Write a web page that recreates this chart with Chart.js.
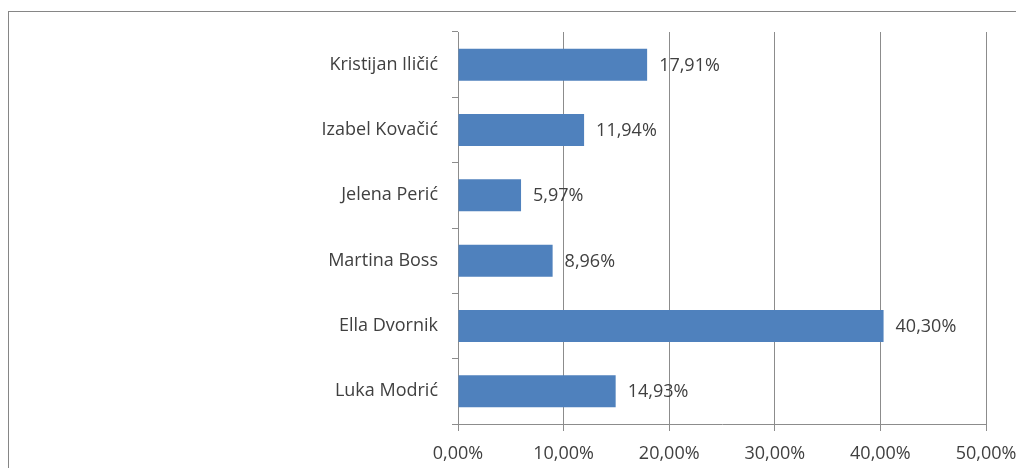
<!DOCTYPE html>
<html>
<head>
<meta charset="utf-8">
<script src="https://cdn.jsdelivr.net/npm/chart.js@4"></script>
<style>
  html, body { margin: 0; padding: 0; background: #fff; }
  #wrap { width: 1016px; height: 468px; position: relative; }
</style>
</head>
<body>
<div id="wrap"><canvas id="chart"></canvas></div>
<script>
const names = ['Kristijan Iličić', 'Izabel Kovačić', 'Jelena Perić', 'Martina Boss', 'Ella Dvornik', 'Luka Modrić'];
const shares = [17.91, 11.94, 5.97, 8.96, 40.30, 14.93];
const xTicks = [0, 10, 20, 30, 40, 50];

const textColor = '#404040';
const gridColor = '#8c8c8c';
const font = { family: '"Open Sans", sans-serif', size: 18 };

function pct(v) {
  return v.toFixed(2).replace('.', ',') + '%';
}

// outer frame like the spreadsheet chart border
const framePlugin = {
  id: 'frame',
  beforeDraw(chart) {
    const ctx = chart.ctx;
    ctx.save();
    ctx.fillStyle = '#fff';
    ctx.fillRect(0, 0, chart.width, chart.height);
    ctx.strokeStyle = '#868686';
    ctx.lineWidth = 1;
    ctx.strokeRect(8.5, 11.5, chart.width + 10, chart.height + 10);
    ctx.restore();
  }
};

// value labels right of each bar
const valueLabels = {
  id: 'valueLabels',
  afterDatasetsDraw(chart) {
    const ctx = chart.ctx;
    const meta = chart.getDatasetMeta(0);
    ctx.save();
    ctx.font = font.size + 'px ' + font.family;
    ctx.fillStyle = textColor;
    ctx.textAlign = 'left';
    ctx.textBaseline = 'middle';
    meta.data.forEach((bar, i) => {
      ctx.fillText(pct(shares[i]), bar.x + 12, bar.y + 1);
    });
    ctx.restore();
  }
};

new Chart(document.getElementById('chart'), {
  type: 'bar',
  data: {
    labels: names,
    datasets: [{
      data: shares,
      backgroundColor: '#4f81bd',
      borderWidth: 0,
      categoryPercentage: 1,
      barPercentage: 0.49
    }]
  },
  options: {
    indexAxis: 'y',
    responsive: true,
    maintainAspectRatio: false,
    animation: false,
    layout: { padding: { left: 8, top: 32, right: 30, bottom: 0 } },
    plugins: {
      legend: { display: false },
      tooltip: { enabled: false }
    },
    scales: {
      x: {
        min: 0,
        max: 50,
        afterBuildTicks(scale) {
          scale.ticks = xTicks.map(v => ({ value: v }));
        },
        afterFit(scale) {
          scale.height = 44;
          scale.paddingLeft = 0;
          scale.paddingRight = 0;
        },
        grid: {
          color: gridColor,
          lineWidth: 1,
          drawTicks: true,
          tickLength: 7
        },
        border: { color: gridColor, width: 1 },
        ticks: {
          color: textColor,
          font: font,
          padding: 12,
          maxRotation: 0,
          autoSkip: false,
          callback: v => pct(v)
        }
      },
      y: {
        afterFit(scale) {
          scale.width = 450;
          scale.paddingTop = 0;
          scale.paddingBottom = 0;
        },
        grid: {
          offset: true,
          drawOnChartArea: false,
          drawTicks: true,
          tickLength: 6,
          color: gridColor
        },
        border: { color: gridColor, width: 1 },
        ticks: {
          color: textColor,
          font: font,
          padding: 14
        }
      }
    }
  },
  plugins: [framePlugin, valueLabels]
});
</script>
</body>
</html>
